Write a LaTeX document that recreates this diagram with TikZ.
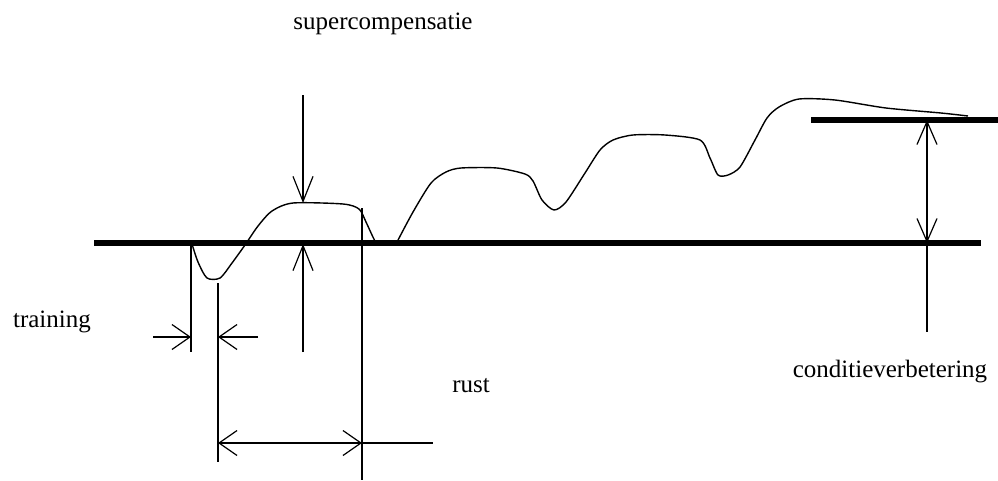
\documentclass[tikz,border=0pt]{standalone}
\usepackage{fontspec}
\setmainfont{Liberation Serif}
\usetikzlibrary{arrows.meta}
\tikzset{
  thin line/.style={line width=1.4pt, line cap=butt},
  thick line/.style={line width=5.5pt, line cap=butt},
  curve/.style={line width=1.4pt, line join=round},
  barbv/.style={-{Straight Barb[length=25pt,width=20pt,line width=1.2pt]}},
  barbh/.style={-{Straight Barb[length=18pt,width=25pt,line width=1.2pt]}},
  barbboth/.style={{Straight Barb[length=18pt,width=25pt,line width=1.2pt]}-{Straight Barb[length=18pt,width=25pt,line width=1.2pt]}},
  barbbothv/.style={{Straight Barb[length=23pt,width=20pt,line width=1.2pt]}-{Straight Barb[length=23pt,width=20pt,line width=1.2pt]}},
  lbl/.style={font=\fontsize{25}{30}\selectfont, inner sep=0pt},
}
\begin{document}
\begin{tikzpicture}[x=1pt,y=-1pt]
\useasboundingbox (0,0) rectangle (998,480);
% named coordinates
\coordinate (baseL) at (94,243);
\coordinate (baseR) at (981,243);
\coordinate (upL) at (811,120);
\coordinate (upR) at (998,120);
\coordinate (scTop) at (303,95);
\coordinate (scPeak) at (303,203);
\coordinate (scBase) at (303,244);
\coordinate (scLow) at (303,352);
\coordinate (v1top) at (191,244);
\coordinate (v1bot) at (191,352);
\coordinate (v2top) at (218,283);
\coordinate (v2bot) at (218,462);
\coordinate (trL) at (153,337);
\coordinate (trLtip) at (191,337);
\coordinate (trR) at (258,337);
\coordinate (trRtip) at (218,337);
\coordinate (v3top) at (362,208);
\coordinate (v3bot) at (362,480);
\coordinate (rustL) at (218,443);
\coordinate (rustR) at (362,443);
\coordinate (rustEnd) at (433,443);
\coordinate (cvTop) at (927,120);
\coordinate (cvBase) at (927,243);
\coordinate (cvLow) at (927,332);

% thick lines
\draw[thick line] (baseL) -- (baseR);
\draw[thick line] (upL) -- (upR);

% curve
\draw[curve] plot[smooth, tension=0.45] coordinates {
 (192,244) (198,262) (207,278) (220,278) (232,263) (245,245) (258,226)
 (272,211) (293,203) (343,204) (359,209) (366,222) (375,241) (380,244)};
\draw[curve] plot[smooth, tension=0.45] coordinates {
 (397,242) (413,212) (431,183) (446,172) (461,168) (497,168) (525,174)
 (533,181) (542,200) (554,210) (566,202) (585,173) (600,150) (613,140)
 (633,135) (665,135) (700,140) (710,158) (718,175) (728,175) (740,167)
 (755,140) (767,118) (779,107) (799,99) (835,100) (886,108) (941,113) (968,116)};

% supercompensatie arrows
\draw[thin line, barbv] (scTop) -- (scPeak);
\draw[thin line, barbv] (scLow) -- (scBase);

% training
\draw[thin line] (v1top) -- (v1bot);
\draw[thin line] (v2top) -- (v2bot);
\draw[thin line, barbh] (trL) -- (trLtip);
\draw[thin line, barbh] (trR) -- (trRtip);

% rust
\draw[thin line] (v3top) -- (v3bot);
\draw[thin line, barbboth] (rustL) -- (rustR);
\draw[thin line] (rustR) -- (rustEnd);

% conditieverbetering
\draw[thin line, barbbothv] (cvBase) -- (cvTop);
\draw[thin line] (cvBase) -- (cvLow);

% labels
\node[lbl] (sc) at (383,24) {supercompensatie};
\node[lbl] (tr) at (52,322) {training};
\node[lbl] (ru) at (471,386) {rust};
\node[lbl] (cv) at (890,372) {conditieverbetering};
\end{tikzpicture}
\end{document}
